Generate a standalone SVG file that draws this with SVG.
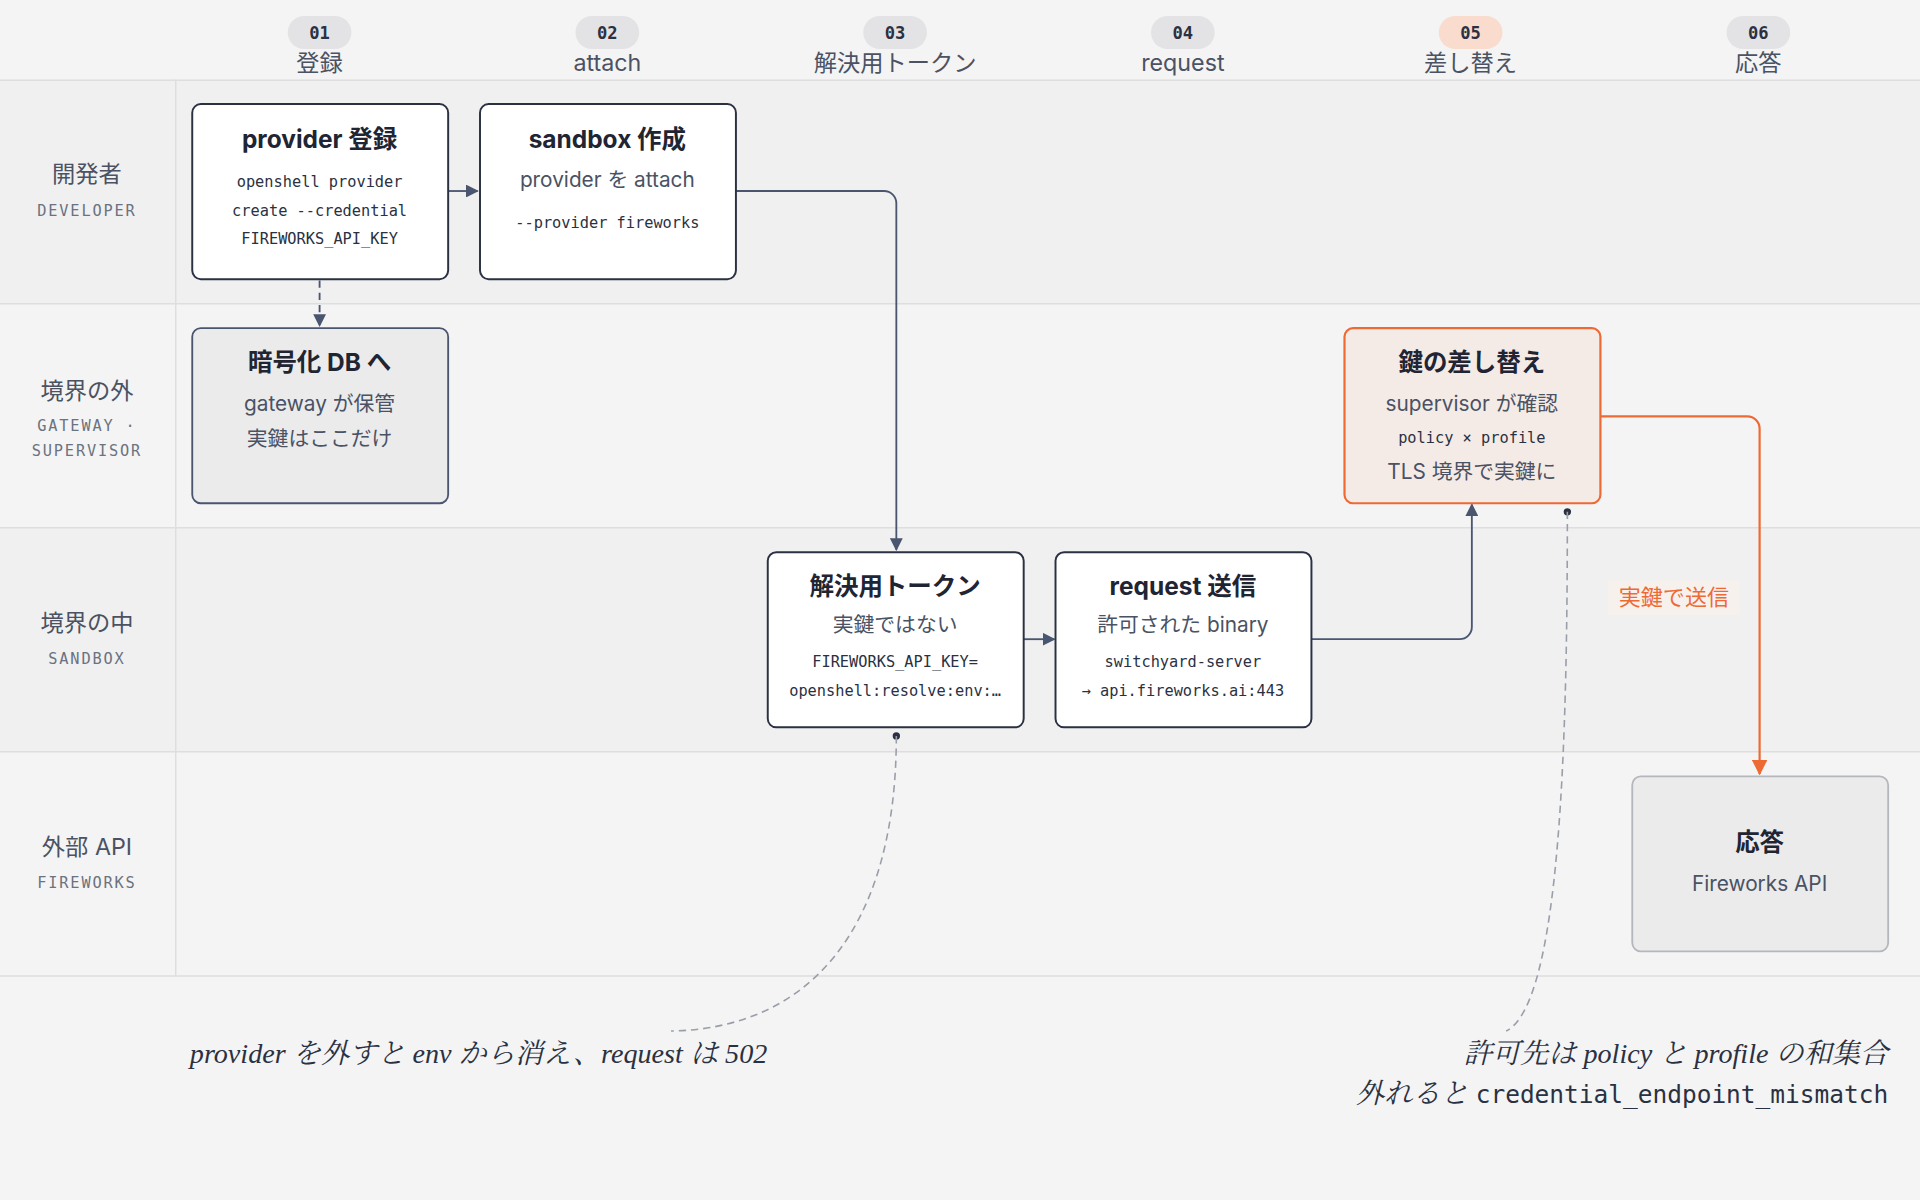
<svg xmlns="http://www.w3.org/2000/svg" width="1920" height="1200" viewBox="0 0 1920 1200">
<defs>
<style>
.sans{font-family:Inter,"Noto Sans","Noto Sans CJK JP",sans-serif}
.mono{font-family:"DejaVu Sans Mono","Liberation Mono",monospace}
.serif{font-family:"Liberation Serif","Noto Serif CJK JP","Noto Sans CJK JP",serif;font-style:italic}
.box{fill:#fff;stroke:#2a3142;stroke-width:1.6}
.title{font-size:20px;font-weight:700;fill:#1f2533;text-anchor:middle}
.sub{font-size:17px;fill:#4a5263;text-anchor:middle}
.code{font-size:12.5px;fill:#2a3142;text-anchor:middle}
.lane{font-size:19px;fill:#4a5263;text-anchor:middle}
.lanesub{font-size:12.5px;fill:#6b7280;text-anchor:middle;letter-spacing:1.5px}
.step{font-size:19px;fill:#4a5263;text-anchor:middle}
.badge{fill:#e3e3e5}
.badget{font-size:14px;font-weight:700;fill:#2a3142;text-anchor:middle}
.conn{fill:none;stroke:#4a5570;stroke-width:1.5}
.note{font-size:23px;fill:#2a3142}
</style>
<marker id="ah" viewBox="0 0 10 10" refX="9" refY="5" markerWidth="7" markerHeight="7" orient="auto"><path d="M0,0L10,5L0,10z" fill="#4a5570"/></marker>
<marker id="aho" viewBox="0 0 10 10" refX="9" refY="5" markerWidth="7" markerHeight="7" orient="auto"><path d="M0,0L10,5L0,10z" fill="#ee6a35"/></marker>
</defs>
<rect width="1920" height="1200" fill="#f4f4f4"/>
<g transform="scale(1.2245)">
<g id="lanes">
<rect x="0" y="65" width="1568" height="183" fill="#f0f0f1"/>
<rect x="0" y="431" width="1568" height="183" fill="#f0f0f1"/>
<g stroke="#dedede" stroke-width="1.2"><line x1="0" y1="65.5" x2="1568" y2="65.5"/><line x1="0" y1="248" x2="1568" y2="248"/><line x1="0" y1="431" x2="1568" y2="431"/><line x1="0" y1="614" x2="1568" y2="614"/><line x1="0" y1="797" x2="1568" y2="797"/><line x1="143.5" y1="65" x2="143.5" y2="797"/></g>
<text class="sans lane" x="71" y="149">開発者</text><text class="mono lanesub" x="71" y="176">DEVELOPER</text>
<text class="sans lane" x="71" y="326">境界の外</text><text class="mono lanesub" x="71" y="352">GATEWAY ·</text><text class="mono lanesub" x="71" y="372">SUPERVISOR</text>
<text class="sans lane" x="71" y="515">境界の中</text><text class="mono lanesub" x="71" y="542">SANDBOX</text>
<text class="sans lane" x="71" y="698">外部 API</text><text class="mono lanesub" x="71" y="725">FIREWORKS</text>
</g>
<g id="steps">
<rect class="badge" x="235" y="13" width="52" height="27" rx="13.5"/><text class="mono badget" x="261" y="32">01</text><text class="sans step" x="261" y="58">登録</text>
<rect class="badge" x="470" y="13" width="52" height="27" rx="13.5"/><text class="mono badget" x="496" y="32">02</text><text class="sans step" x="496" y="58">attach</text>
<rect class="badge" x="705" y="13" width="52" height="27" rx="13.5"/><text class="mono badget" x="731" y="32">03</text><text class="sans step" x="731" y="58">解決用トークン</text>
<rect class="badge" x="940" y="13" width="52" height="27" rx="13.5"/><text class="mono badget" x="966" y="32">04</text><text class="sans step" x="966" y="58">request</text>
<rect x="1175" y="13" width="52" height="27" rx="13.5" fill="#f9dccd"/><text class="mono badget" x="1201" y="32">05</text><text class="sans step" x="1201" y="58">差し替え</text>
<rect class="badge" x="1410" y="13" width="52" height="27" rx="13.5"/><text class="mono badget" x="1436" y="32">06</text><text class="sans step" x="1436" y="58">応答</text>
</g>
<g id="connectors">
<path class="conn" d="M366,156H390" marker-end="url(#ah)"/>
<path class="conn" d="M261,229V266" stroke-dasharray="6,4" marker-end="url(#ah)"/>
<path class="conn" d="M601,156H722a10,10 0 0 1 10,10V449" marker-end="url(#ah)"/>
<path class="conn" d="M836,522H861" marker-end="url(#ah)"/>
<path class="conn" d="M1071,522H1192a10,10 0 0 0 10,-10V412" marker-end="url(#ah)"/>
<path d="M1307,340H1427a10,10 0 0 1 10,10V632" fill="none" stroke="#ee6a35" stroke-width="1.8" marker-end="url(#aho)"/>
<rect x="1313" y="474" width="108" height="28" fill="#f7f1ee"/>
<text class="sans" x="1367" y="494" font-size="18" fill="#ee6a35" text-anchor="middle">実鍵で送信</text>
<circle cx="732" cy="601" r="3" fill="#2a3142"/>
<path d="M732,601C732,760 660,840 548,842" fill="none" stroke="#9a9ea8" stroke-width="1.3" stroke-dasharray="6,4"/>
<circle cx="1280" cy="418" r="3" fill="#2a3142"/>
<path d="M1280,418C1280,600 1275,820 1230,842" fill="none" stroke="#9a9ea8" stroke-width="1.3" stroke-dasharray="6,4"/>
</g>
<g id="n1"><rect class="box" x="157" y="85" width="209" height="143" rx="7"/>
<text class="sans title" x="261" y="121">provider 登録</text>
<text class="mono code" x="261" y="153">openshell provider</text><text class="mono code" x="261" y="176">create --credential</text><text class="mono code" x="261" y="199">FIREWORKS_API_KEY</text></g>
<g id="n2"><rect class="box" x="392" y="85" width="209" height="143" rx="7"/>
<text class="sans title" x="496" y="121">sandbox 作成</text>
<text class="sans sub" x="496" y="153">provider を attach</text>
<text class="mono code" x="496" y="186">--provider fireworks</text></g>
<g id="n3"><rect x="157" y="268" width="209" height="143" rx="7" fill="#ebebec" stroke="#4a5570" stroke-width="1.5"/>
<text class="sans title" x="261" y="303">暗号化 DB へ</text>
<text class="sans sub" x="261" y="336">gateway が保管</text><text class="sans sub" x="261" y="364">実鍵はここだけ</text></g>
<g id="n4"><rect x="1098" y="268" width="209" height="143" rx="7" fill="#f5ebe6" stroke="#ee6a35" stroke-width="1.8"/>
<text class="sans title" x="1202" y="303">鍵の差し替え</text>
<text class="sans sub" x="1202" y="336">supervisor が確認</text>
<text class="mono code" x="1202" y="362">policy × profile</text>
<text class="sans sub" x="1202" y="391">TLS 境界で実鍵に</text></g>
<g id="n5"><rect class="box" x="627" y="451" width="209" height="143" rx="7"/>
<text class="sans title" x="731" y="486">解決用トークン</text>
<text class="sans sub" x="731" y="516">実鍵ではない</text>
<text class="mono code" x="731" y="545">FIREWORKS_API_KEY=</text><text class="mono code" x="731" y="568">openshell:resolve:env:…</text></g>
<g id="n6"><rect class="box" x="862" y="451" width="209" height="143" rx="7"/>
<text class="sans title" x="966" y="486">request 送信</text>
<text class="sans sub" x="966" y="516">許可された binary</text>
<text class="mono code" x="966" y="545">switchyard-server</text><text class="mono code" x="966" y="568">→ api.fireworks.ai:443</text></g>
<g id="n7"><rect x="1333" y="634" width="209" height="143" rx="7" fill="#ebebec" stroke="#b4b7bd" stroke-width="1.5"/>
<text class="sans title" x="1437" y="695">応答</text>
<text class="sans sub" x="1437" y="728">Fireworks API</text></g>
<g id="notes">
<text class="serif note" x="155" y="868">provider を外すと env から消え、request は 502</text>
<text class="serif note" x="1542" y="868" text-anchor="end">許可先は policy と profile の和集合</text>
<text class="note" x="1542" y="901" text-anchor="end"><tspan class="serif">外れると </tspan><tspan class="mono" font-size="20">credential_endpoint_mismatch</tspan></text>
</g>
</g>
</svg>
